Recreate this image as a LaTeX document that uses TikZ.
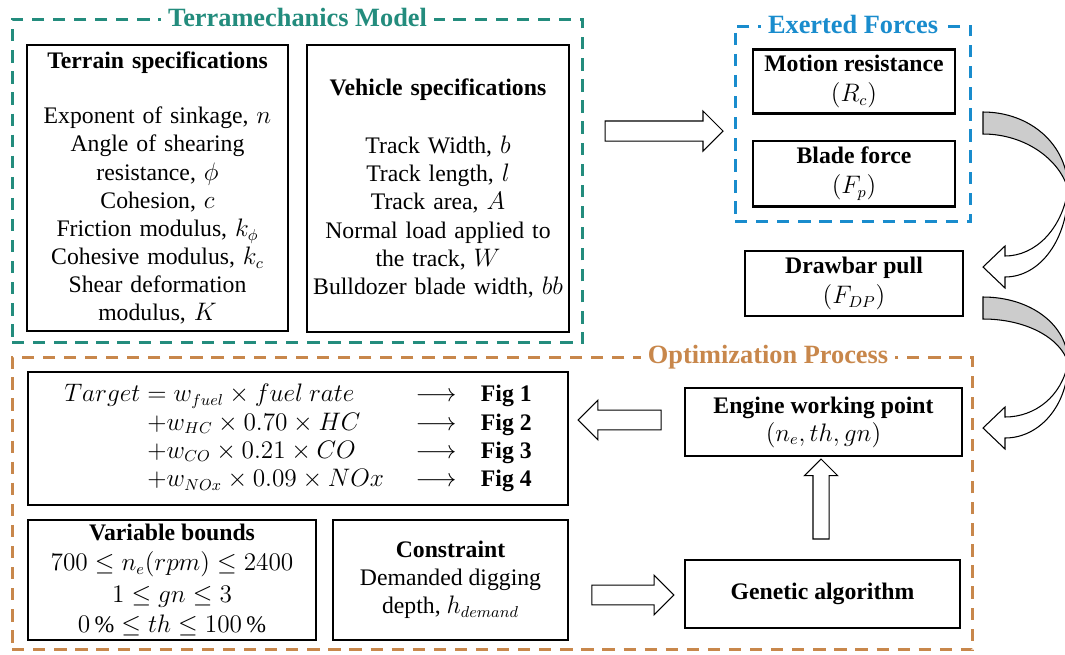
\documentclass[tikz,border=0pt]{standalone}
\usepackage{amsmath}
\usepackage{fontspec}
\setmainfont{Liberation Serif}
\usepackage{tikz}
\usetikzlibrary{positioning, shapes.arrows}

\definecolor{tmteal}{RGB}{35,140,125}
\definecolor{efblue}{RGB}{25,140,205}
\definecolor{oporange}{RGB}{200,135,75}
\definecolor{arrowgray}{RGB}{204,204,204}

% curved block arrow on the right border: top y, tip y
\newcommand{\turnarrow}[2]{%
  \pgfmathsetmacro{\m}{(#1+#2)/2}\pgfmathsetmacro{\s}{(#2-#1)/155}%
  \draw[fill=white, line width=0.6pt]
    (1068,\m) .. controls (1068,{\m+50*\s}) and (1040,{#2+10}) .. (1005,{#2+10})
    -- (1005,{#2+21}) -- (983,#2) -- (1005,{#2-21}) -- (1005,{#2-11})
    .. controls (1035,{#2-11}) and (1062,{\m+40*\s}) .. (1068,\m) -- cycle;
  \draw[fill=arrowgray, line width=0.6pt]
    (983,#1) .. controls (1030,#1) and (1068,{\m-45*\s}) .. (1068,\m)
    .. controls (1060,{\m-30*\s}) and (1025,{#1+22}) .. (983,{#1+22}) -- cycle;
}

\begin{document}
\begin{tikzpicture}[x=0.02cm, y=-0.02cm,
    specbox/.style={draw, line width=1.4pt, align=center, font=\fontsize{13.5}{16}\selectfont},
    groupframe/.style={draw, line width=1.7pt, dash pattern=on 7pt off 5pt},
    frametitle/.style={fill=white, inner sep=4pt, font=\fontsize{15}{18}\selectfont\bfseries},
    blockarrow/.style={single arrow, draw, fill=white, line width=0.6pt, single arrow head extend=0.2cm}]
    \useasboundingbox (0,0) rectangle (1065,654);
    \clip (0,0) rectangle (1065,654);

    % Terramechanics model
    \node[groupframe, draw=tmteal, minimum width=11.42cm, minimum height=6.48cm] (tm) at (297.5,181) {};
    \node[frametitle, text=tmteal] at (tm.north) {Terramechanics Model};
    \node[specbox, minimum width=5.22cm, minimum height=5.72cm, text width=5cm, inner xsep=0pt] (terrain) at (157.5,188) {\textbf{Terrain specifications}\\[15.5pt] Exponent of sinkage, $n$\\ Angle of shearing\\ resistance, $\phi$\\ Cohesion, $c$\\ Friction modulus, $k_\phi$\\ Cohesive modulus, $k_c$\\ Shear deformation\\ modulus, $K$};
    \node[specbox, minimum width=5.24cm, minimum height=5.74cm, text width=5.15cm, inner xsep=0pt] (vehicle) at (438,188.5) {\textbf{Vehicle specifications}\\[17pt] Track Width, $b$\\ Track length, $l$\\ Track area, $A$\\ Normal load applied to\\ the track, $W$\\ Bulldozer blade width, $bb$};

    % Exerted forces
    \node[groupframe, draw=efblue, minimum width=4.72cm, minimum height=3.92cm] (ef) at (853,124) {};
    \node[frametitle, text=efblue] at (ef.north) {Exerted Forces};
    \node[specbox, minimum width=4.04cm, minimum height=1.26cm] (motion) at (854,81.5) {\textbf{Motion resistance}\\[1pt] $(R_c)$};
    \node[specbox, minimum width=4.04cm, minimum height=1.3cm, below=0.5cm of motion] (blade) {\textbf{Blade force}\\[1pt] $(F_p)$};
    \node[specbox, minimum width=4.36cm, minimum height=1.3cm] (drawbar) at (854,283.5) {\textbf{Drawbar pull}\\[1pt] $(F_{DP})$};

    % Optimization process
    \node[groupframe, draw=oporange, minimum width=19.22cm, minimum height=5.86cm] (op) at (492.5,503.5) {};
    \node[frametitle, text=oporange] at (768,357) {Optimization Process};
    \node[specbox, minimum width=10.8cm, minimum height=2.66cm] (target) at (298,438.5) {%
      \begin{tabular}{@{}r@{\hspace{4pt}}l@{\hspace{18pt}}c@{\hspace{14pt}}l@{}}
        $Target$ & $= w_{fuel}\times fuel\ rate$ & $\longrightarrow$ & \textbf{Fig 1}\\
                 & $+w_{HC}\times 0.70\times HC$ & $\longrightarrow$ & \textbf{Fig 2}\\
                 & $+w_{CO}\times 0.21\times CO$ & $\longrightarrow$ & \textbf{Fig 3}\\
                 & $+w_{NOx}\times 0.09\times NOx$ & $\longrightarrow$ & \textbf{Fig 4}
      \end{tabular}};
    \node[specbox, minimum width=5.54cm, minimum height=1.36cm] (engine) at (823.5,422) {\textbf{Engine working point}\\ $(n_e, th, gn)$};
    \node[specbox, minimum width=5.76cm, minimum height=2.4cm, inner ysep=1pt] (bounds) at (172,580) {\textbf{Variable bounds}\\[1pt] $700 \le n_e(rpm) \le 2400$\\[2pt] $1 \le gn \le 3$\\[1pt] $0\,\% \le th \le 100\,\%$};
    \node[specbox, minimum width=4.7cm, minimum height=2.4cm] (constraint) at (450.5,580) {\textbf{Constraint}\\ Demanded digging\\ depth, $h_{demand}$};
    \node[specbox, minimum width=5.5cm, minimum height=1.36cm] (ga) at (822.5,594) {\textbf{Genetic algorithm}};

    % block arrows
    \node[blockarrow, minimum height=2.36cm, inner sep=0.19cm] (toforces) at (659,131) {};
    \node[blockarrow, minimum height=1.66cm, inner sep=0.186cm, shape border rotate=180] (totarget) at (624.5,420) {};
    \node[blockarrow, minimum height=1.64cm, inner sep=0.186cm] (toga) at (628,595) {};
    \node[blockarrow, minimum height=1.6cm, inner sep=0.15cm, single arrow head extend=0.17cm, shape border rotate=90] (toengine) at (821,503) {};

    % curved arrows
    \turnarrow{112}{267}
    \turnarrow{297}{428}
\end{tikzpicture}
\end{document}
